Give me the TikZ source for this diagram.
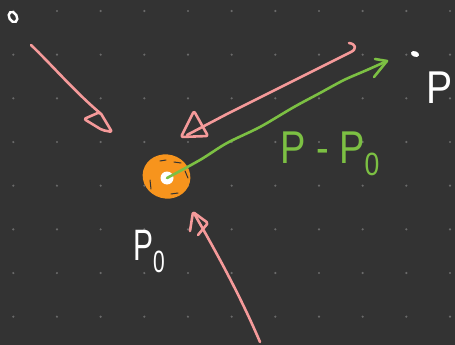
\documentclass[tikz,border=0pt]{standalone}
\usepackage{fontspec}
\setmainfont{Liberation Sans}
\usetikzlibrary{shapes.geometric}
\definecolor{bg}{HTML}{333333}
\definecolor{dotc}{HTML}{6A6A6A}
\definecolor{pinkc}{HTML}{F59A9A}
\definecolor{greenc}{HTML}{7CC043}
\definecolor{orangec}{HTML}{F7941D}
\begin{document}
\begin{tikzpicture}[x=1pt,y=-1pt,
  pinkline/.style={draw=pinkc,line width=2.6pt,line cap=round,line join=round},
  greenline/.style={draw=greenc,line width=2.6pt,line cap=round,line join=round},
  hollowhead/.style={pinkline,rounded corners=2pt},
  whitetext/.style={text=white,inner sep=0pt},
  greentext/.style={text=greenc,inner sep=0pt}]
\fill[bg] (0,0) rectangle (455,345);
\useasboundingbox (0,0) rectangle (455,345);
\foreach \i in {0,...,10}{\foreach \j in {0,...,7}{\fill[dotc] (13.3+43.67*\i,11+43.67*\j) circle (1.2);}}
% origin marker
\draw[white,line width=2.4pt] (13,17) ellipse [x radius=3.8, y radius=5.5, rotate=30];
% P0 blob
\node[ellipse,fill=orangec,minimum width=48,minimum height=44,inner sep=0pt,rotate=-15] (blob) at (166.5,176.5) {};
\foreach \a/\b in {{(174,162)}/{(181,163)}, {(150,180)}/{(151,189)}, {(171,194)}/{(178,193)}, {(185,171)}/{(188,178)}, {(160,161)}/{(166,160)}}{\draw[black!80,line width=1pt,line cap=round] \a -- \b;}
\node[circle,fill=white,minimum size=13,inner sep=0pt] (P0) at (167,178) {};
% point P
\fill[white] (415,54) ellipse [x radius=4.2, y radius=2.8, rotate=-20];
\coordinate (Pp) at (415,54);
% green vector P - P0
\coordinate (gtip) at (387,61);
\draw[greenline] plot[smooth] coordinates {(P0.center) (200,160) (227,143) (260,127) (294,107) (320,93) (344,80) (367,70) (gtip)};
\draw[greenline] (375,59) -- (gtip) -- (374,77);
% pink arrow 1 (from upper left)
\coordinate (a1s) at (31,45);
\coordinate (a1e) at (100,113);
\draw[pinkline] (a1s) .. controls (50,63) and (75,92) .. (a1e);
\draw[hollowhead] (100,112) -- (112,132) -- (102,130) -- (84,119) -- cycle;
% pink arrow 2 (from upper right)
\coordinate (a2s) at (349,43);
\coordinate (a2e) at (187,135);
\draw[pinkline] (a2s) .. controls (356,44) and (357,49) .. (351,52) -- (227,114) -- (a2e);
\draw[hollowhead] (181,137) -- (194,111) -- (208,136) -- cycle;
% pink arrow 3 (from below)
\coordinate (a3s) at (260,342);
\coordinate (a3e) at (195,215);
\draw[pinkline] (a3s) .. controls (240,295) and (215,250) .. (a3e);
\draw[pinkline,rounded corners=1.5pt] (190,231) -- (193,212) -- (208,223) -- (198,235);
% labels
\node[greentext,font=\fontsize{40}{40}\selectfont,anchor=base west] (lbl) at (280,163) {\scalebox{0.95}[1.15]{P - P\textsubscript{0}}};
\node[whitetext,font=\fontsize{46}{46}\selectfont,anchor=base] (Plbl) at (440,103) {\scalebox{0.85}[1]{P}};
\node[whitetext,font=\fontsize{44}{44}\selectfont,anchor=base west] (P0lbl) at (133,260) {\scalebox{0.68}[1]{P\textsubscript{0}}};
\end{tikzpicture}
\end{document}
